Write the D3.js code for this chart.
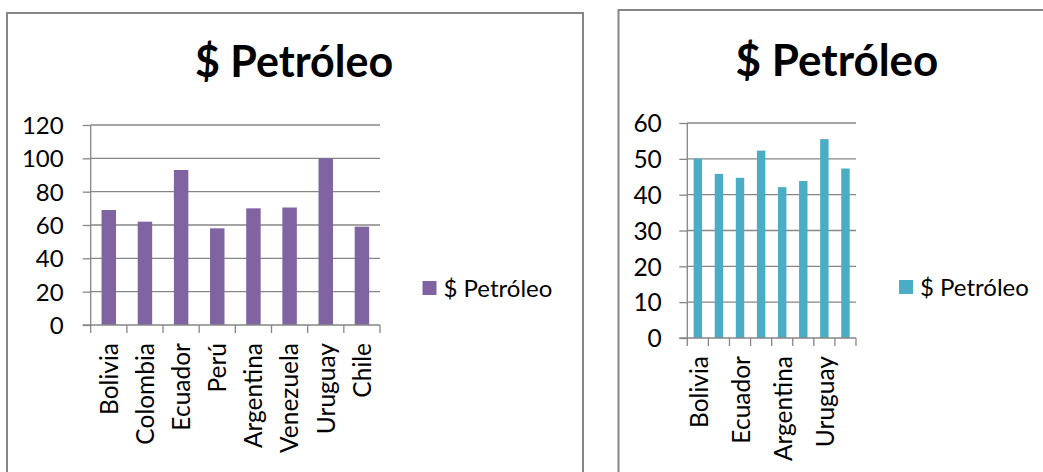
<!DOCTYPE html>
<html>
<head>
<meta charset="utf-8">
<script src="https://cdn.jsdelivr.net/npm/d3@7"></script>
<style>
  html, body { margin: 0; padding: 0; background: #fff; }
  svg { display: block; }
  text { font-family: Lato, "Open Sans", sans-serif; fill: #000; }
</style>
</head>
<body>
<svg id="chart" width="1043" height="472"></svg>
<script>
// ---- data ----
const categories = ["Bolivia", "Colombia", "Ecuador", "Perú", "Argentina", "Venezuela", "Uruguay", "Chile"];
const leftValues = [69, 62, 93, 58, 70, 70.5, 100, 59];
const rightValues = [50, 45.8, 44.7, 52.3, 42.1, 43.8, 55.5, 47.3];
const leftTicks = [0, 20, 40, 60, 80, 100, 120];
const rightTicks = [0, 10, 20, 30, 40, 50, 60];
const chartTitle = "$ Petróleo";
const seriesName = "$ Petróleo";
const leftLabelEvery = 1;
const rightLabelEvery = 2;

// ---- style ----
const gridColor = "#868686";
const frameColor = "#868686";

const svg = d3.select("#chart");
svg.append("rect").attr("width", 1043).attr("height", 472).attr("fill", "#fff");

function drawChart(opt) {
  const g = svg.append("g");
  // frame (open at the bottom / right edge of the picture)
  g.append("rect")
    .attr("x", opt.frame[0]).attr("y", opt.frame[1])
    .attr("width", opt.frame[2]).attr("height", opt.frame[3])
    .attr("fill", "none").attr("stroke", frameColor).attr("stroke-width", 2);

  // title
  g.append("text")
    .attr("x", opt.titleX).attr("y", opt.titleY)
    .attr("text-anchor", "middle")
    .style("font-weight", "bold").style("font-size", opt.titleSize + "px")
    .text(chartTitle);

  const x = d3.scaleBand().domain(categories).range([opt.x0, opt.x1]).paddingInner(0).paddingOuter(0);
  const y = d3.scaleLinear().domain([0, d3.max(opt.ticks)]).range([opt.y0, opt.y1]);

  // gridlines
  g.append("g").selectAll("line").data(opt.ticks.filter(t => t > 0)).join("line")
    .attr("x1", opt.x0).attr("x2", opt.x1)
    .attr("y1", d => y(d)).attr("y2", d => y(d))
    .attr("stroke", gridColor).attr("stroke-width", 1.3);

  // y axis
  const yAxis = d3.axisLeft(y).tickValues(opt.ticks).tickSize(8).tickSizeOuter(0).tickPadding(opt.yPad);
  const ya = g.append("g").attr("transform", `translate(${opt.x0},0)`).call(yAxis);
  ya.select(".domain").remove();
  ya.selectAll(".tick line").attr("stroke", gridColor).attr("stroke-width", 1.3);
  ya.selectAll(".tick text").attr("dy", "0.36em").style("font-size", opt.tickSize + "px")
    .style("font-family", "Lato, sans-serif").attr("fill", "#000");

  // bars
  const bw = x.step() * 0.4;
  g.append("g").selectAll("rect").data(opt.values).join("rect")
    .attr("x", (d, i) => x(categories[i]) + (x.step() - bw) / 2)
    .attr("width", bw)
    .attr("y", d => y(d))
    .attr("height", d => y(0) - y(d))
    .attr("fill", opt.color);

  // vertical axis line
  g.append("line").attr("x1", opt.x0).attr("x2", opt.x0)
    .attr("y1", y(d3.max(opt.ticks))).attr("y2", y(0))
    .attr("stroke", gridColor).attr("stroke-width", 1.3);

  // x axis line + ticks at category boundaries
  g.append("line").attr("x1", opt.x0 - 8).attr("x2", opt.x1)
    .attr("y1", y(0)).attr("y2", y(0))
    .attr("stroke", gridColor).attr("stroke-width", 1.3);
  const bounds = categories.map(c => x(c)).concat([opt.x1]);
  g.append("g").selectAll("line").data(bounds).join("line")
    .attr("x1", d => d).attr("x2", d => d)
    .attr("y1", y(0)).attr("y2", y(0) + 8)
    .attr("stroke", gridColor).attr("stroke-width", 1.3);

  // category labels (rotated)
  g.append("g").selectAll("text")
    .data(categories.filter((c, i) => i % opt.labelEvery === 0)).join("text")
    .attr("transform", d => `translate(${x(d) + x.step() / 2 + opt.labelShift},${y(0) + 18}) rotate(-90)`)
    .attr("text-anchor", "end")
    .attr("dy", "0.36em")
    .style("font-size", opt.catSize + "px")
    .text(d => d);

  // legend
  g.append("rect").attr("x", opt.legX).attr("y", opt.legY).attr("width", 14).attr("height", 14).attr("fill", opt.color);
  g.append("text").attr("x", opt.legX + 21).attr("y", opt.legY + 16)
    .style("font-size", opt.legSize + "px").text(seriesName);
}

drawChart({
  frame: [7, 13, 576, 480],
  titleX: 294, titleY: 77, titleSize: 43,
  x0: 90.7, x1: 380, y0: 325, y1: 125,
  ticks: leftTicks, values: leftValues, color: "#8064A2",
  yPad: 19, tickSize: 24, catSize: 24.5, labelEvery: leftLabelEvery, labelShift: 0,
  legX: 422.5, legY: 281, legSize: 24
});

drawChart({
  frame: [618.5, 10, 480, 480],
  titleX: 837, titleY: 76, titleSize: 44,
  x0: 687.3, x1: 856, y0: 338, y1: 123,
  ticks: rightTicks, values: rightValues, color: "#4BACC6",
  yPad: 17.5, tickSize: 24.5, catSize: 24.5, labelEvery: rightLabelEvery, labelShift: 1,
  legX: 899, legY: 280, legSize: 24
});
</script>
</body>
</html>
